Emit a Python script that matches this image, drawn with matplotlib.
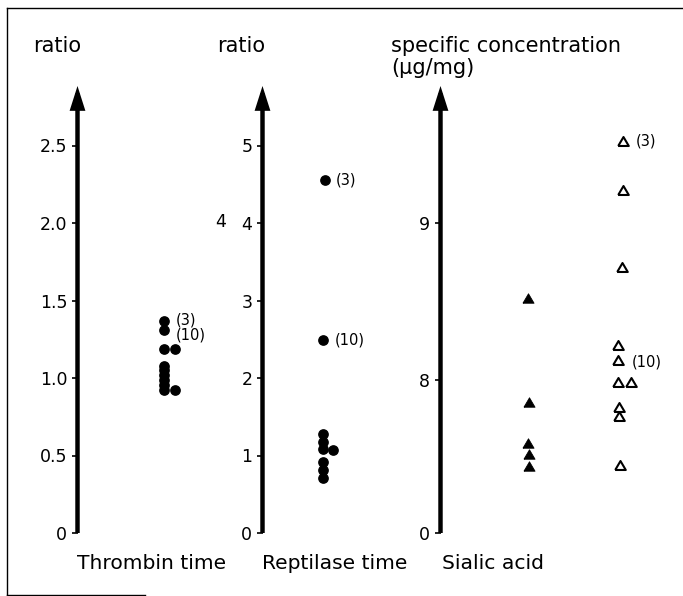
import matplotlib
matplotlib.use("Agg")
import matplotlib.pyplot as plt
from matplotlib.patches import FancyArrowPatch
from matplotlib.lines import Line2D

plt.rcParams['font.family'] = ['DejaVu Sans']

# ---------------- data ----------------
thrombin_ratio = [1.37, 1.31, 1.19, 1.19, 1.08, 1.05, 1.02, 0.99, 0.955, 0.92, 0.92]
thrombin_notes = {0: '(3)', 1: '(10)'}
thrombin_ticks = [0, 0.5, 1.0, 1.5, 2.0, 2.5]
thrombin_ticklabels = ['0', '0.5', '1.0', '1.5', '2.0', '2.5']

reptilase_ratio = [4.56, 2.49, 1.28, 1.17, 1.08, 1.07, 0.91, 0.81, 0.71]
reptilase_notes = {0: '(3)', 1: '(10)'}
reptilase_ticks = [0, 1, 2, 3, 4, 5]
reptilase_ticklabels = ['0', '1', '2', '3', '4', '5']

sialic_filled = [8.52, 7.86, 7.60, 7.53, 7.45]
sialic_open = [9.52, 9.21, 8.72, 8.22, 8.13, 7.99, 7.99, 7.83, 7.77, 7.46]
sialic_open_notes = {0: '(3)', 4: '(10)'}
sialic_floor = 7.027          # value drawn at the (broken) "0" position
sialic_ticks = [sialic_floor, 8, 9]
sialic_ticklabels = ['0', '8', '9']

axis_titles = ['ratio', 'ratio', 'specific concentration\n(\u00b5g/mg)']
group_names = ['Thrombin time', 'Reptilase time', 'Sialic acid']

# ---------------- layout (pixels) ----------------
W, H = 683, 596
fig = plt.figure(figsize=(W / 100, H / 100), dpi=100)
Y0, YTOP = 533, 86           # axis bottom / arrow tip

def px2fig(x, y):
    return x / W, 1 - y / H

def make_axes(xaxis, width, ylo, yhi):
    ax = fig.add_axes([xaxis / W, (H - Y0) / H, width / W, (Y0 - YTOP) / H])
    ax.set_xlim(0, width)
    ax.set_ylim(ylo, yhi)
    for s in ax.spines.values():
        s.set_visible(False)
    ax.set_xticks([])
    ax.tick_params(axis='y', direction='out', length=4.3, width=1.2,
                   pad=3, labelsize=12.5, color='black')
    arr = FancyArrowPatch((0, 0), (0, 1), transform=ax.transAxes,
                          arrowstyle='-|>,head_length=11,head_width=3.5',
                          mutation_scale=1, lw=3.2, color='black',
                          shrinkA=0, shrinkB=0, capstyle='butt',
                          joinstyle='miter', clip_on=False)
    ax.add_patch(arr)
    return ax

def note(ax, x, y, text, dx_px, dy_px):
    ax.annotate(text, (x, y), xytext=(dx_px * 0.72, -dy_px * 0.72),
                textcoords='offset points', ha='left', va='center',
                fontsize=10.5, annotation_clip=False)

# panel 1 : thrombin time
ax1 = make_axes(77.5, 180, 0, (Y0 - YTOP) / 155.0)
ax1.set_yticks(thrombin_ticks, thrombin_ticklabels)
col1 = 86.5
dodge1 = [0, 0, 0, 10.5, 0, 0, 0, 0, 0, 0, 10.5]
x1 = [col1 + d for d in dodge1]
ax1.plot(x1, thrombin_ratio, 'o', color='black', ms=6.7, ls='none')
note(ax1, x1[0], thrombin_ratio[0], thrombin_notes[0], 12, -1)
note(ax1, x1[1], thrombin_ratio[1], thrombin_notes[1], 12, 5)

# panel 2 : reptilase time
ax2 = make_axes(262.5, 180, 0, (Y0 - YTOP) / 77.5)
ax2.set_yticks(reptilase_ticks, reptilase_ticklabels)
col2 = 60.5
dodge2 = [1.5, 0, 0, 0, 0, 10, 0, 0, 0]
x2 = [col2 + d for d in dodge2]
ax2.plot(x2, reptilase_ratio, 'o', color='black', ms=6.7, ls='none')
note(ax2, x2[0], reptilase_ratio[0], reptilase_notes[0], 11, 0)
note(ax2, x2[1], reptilase_ratio[1], reptilase_notes[1], 12, 0)

# panel 3 : sialic acid
k3 = 157.3
ax3 = make_axes(440.5, 240, sialic_floor, 8 + (380 - YTOP) / k3)
ax3.set_yticks(sialic_ticks, sialic_ticklabels)
tri = [(-1, -0.85), (1, -0.85), (0, 0.85), (-1, -0.85)]
colf = 87.5
dodgef = [0, 0.5, 0, 0.5, 1]
ax3.plot([colf + d for d in dodgef], sialic_filled, ls='none', marker=tri,
         ms=8, mfc='black', mec='black', mew=0.6)
colo = 179.0
dodgeo = [3, 3, 2, -2, -2, -2, 11.5, -1, -1, 0]
xo = [colo + d for d in dodgeo]
ax3.plot(xo, sialic_open, ls='none', marker=tri, ms=7.6,
         mfc='white', mec='black', mew=1.5)
note(ax3, xo[0], sialic_open[0], sialic_open_notes[0], 13, 0)
note(ax3, xo[4], sialic_open[4], sialic_open_notes[4], 14, 2)

# stray scan mark "4" next to the reptilase axis
fig.text(*px2fig(226, 222), '4', ha='right', va='center', fontsize=12.5)

# axis titles
fig.text(*px2fig(33, 52), axis_titles[0], fontsize=15, va='baseline')
fig.text(*px2fig(217, 52), axis_titles[1], fontsize=15, va='baseline')
fig.text(*px2fig(391, 52), axis_titles[2].split('\n')[0], fontsize=15, va='baseline')
fig.text(*px2fig(391, 74), axis_titles[2].split('\n')[1], fontsize=15, va='baseline')

# group names
fig.text(*px2fig(77, 569), group_names[0], fontsize=14.6, va='baseline')
fig.text(*px2fig(262, 569), group_names[1], fontsize=14.6, va='baseline')
fig.text(*px2fig(442, 569), group_names[2], fontsize=14.6, va='baseline')

# frame remnants
def fline(xs, ys, lw=1.0, color='black'):
    fx = [x / W for x in xs]
    fy = [1 - y / H for y in ys]
    fig.add_artist(Line2D(fx, fy, transform=fig.transFigure, lw=lw, color=color))

fline([7, 7], [8, 595], lw=1.0)
fline([7, 683], [8, 8], lw=1.0)
fline([7, 145], [594.5, 594.5], lw=1.0)

fig.savefig('out.png', dpi=100)
